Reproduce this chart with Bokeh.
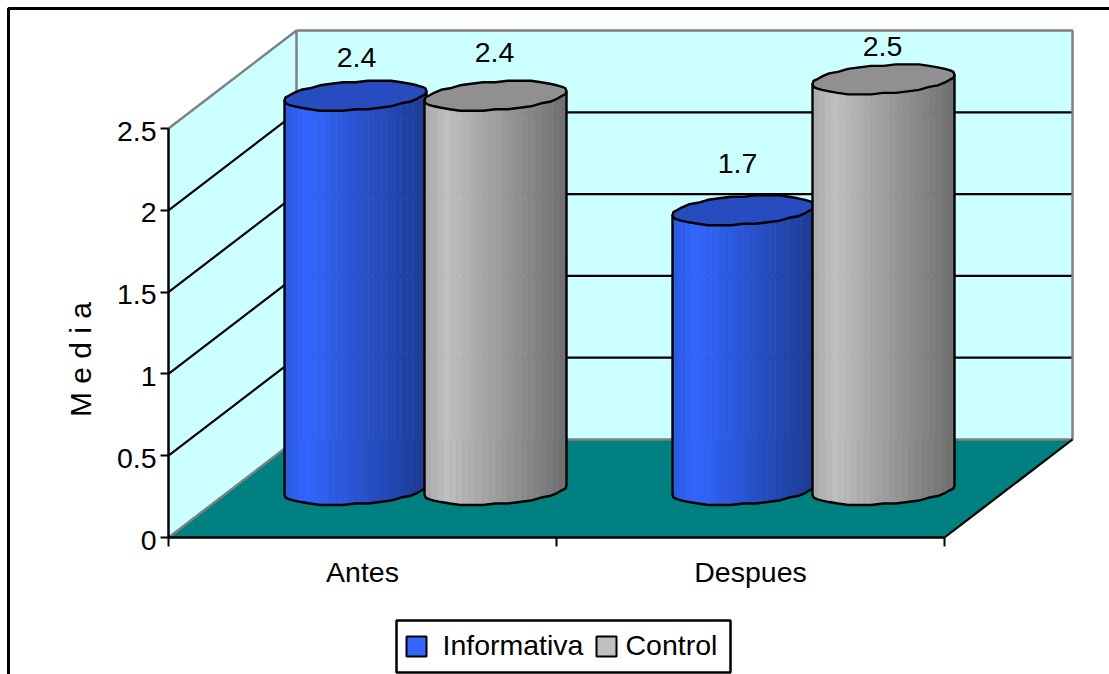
import numpy as np
from bokeh.core.properties import value
from bokeh.embed import file_html
from bokeh.models import FixedTicker, LinearAxis, Range1d
from bokeh.plotting import figure
from bokeh.resources import INLINE

# ---- chart data ----
categories = ["Antes", "Despues"]
series_names = ["Informativa", "Control"]
informativa = [2.4, 1.7]
control = [2.4, 2.5]
y_ticks = [0, 0.5, 1, 1.5, 2, 2.5]
y_tick_labels = ["0", "0.5", "1", "1.5", "2", "2.5"]

# ---- page and projection layout ----
W, H = 1109, 674
ORIGIN_X, ORIGIN_Y = 168, 537      # where value 0 of the first category sits
PX_PER_CAT, PX_PER_VAL = 388, 163.6
DEPTH_X, DEPTH_Y = 128 / PX_PER_CAT, 98 / PX_PER_VAL
FONT = "Liberation Sans"
FS = "28.5px"
TEXT_DROP = 11.5                   # alphabetic text lands this far under its anchor
LABEL_SAG = 2.5 / PX_PER_VAL       # value-axis labels sit a little under their ticks
WALL, FLOOR, EDGE = "#CCFFFF", "#008080", "#808080"
SERIES_RGB = [(0x33, 0x66, 0xFF), (0xC0, 0xC0, 0xC0)]
BAND_STOPS_U = [0.0, 0.16, 1.0]
BAND_STOPS_F = [0.88, 1.0, 0.58]
BAND_COUNT = 22


def fx(px):
    return (px - ORIGIN_X) / PX_PER_CAT


def fy(px):
    return (ORIGIN_Y - px) / PX_PER_VAL


p = figure(width=W, height=H, output_backend="svg", toolbar_location=None,
           x_range=Range1d(fx(0), fx(W)), y_range=Range1d(fy(H), fy(0)),
           min_border=0, outline_line_color=None, background_fill_color="white",
           border_fill_color="white", x_axis_type=None, y_axis_type=None)
p.grid.visible = False

# chart-area frame (its right and bottom sides fall outside the page)
p.line([fx(8), fx(8), fx(W + 5)], [fy(H + 5), fy(8), fy(8)], line_color="black", line_width=3)

# back wall, side wall, floor
top = y_ticks[-1]
p.patch([0, DEPTH_X, DEPTH_X, 0], [0, DEPTH_Y, top + DEPTH_Y, top], fill_color=WALL, line_color=None)
p.patch([DEPTH_X, 2 + DEPTH_X, 2 + DEPTH_X, DEPTH_X], [DEPTH_Y, DEPTH_Y, top + DEPTH_Y, top + DEPTH_Y],
        fill_color=WALL, line_color=None)
p.patch([0, DEPTH_X, 2 + DEPTH_X, 2], [0, DEPTH_Y, DEPTH_Y, 0], fill_color=FLOOR, line_color=None)

# gridlines wrap round the side wall and the back wall
grid = [t for t in y_ticks[1:-1]]
p.multi_line([[0, DEPTH_X, 2 + DEPTH_X] for _ in grid], [[t, t + DEPTH_Y, t + DEPTH_Y] for t in grid],
             line_color="black", line_width=2.2)

# wall and floor edges
p.line([0, DEPTH_X, DEPTH_X], [top, top + DEPTH_Y, DEPTH_Y], line_color=EDGE, line_width=2.5)
p.line([DEPTH_X, 2 + DEPTH_X, 2 + DEPTH_X, DEPTH_X, 0],
       [top + DEPTH_Y, top + DEPTH_Y, DEPTH_Y, DEPTH_Y, 0], line_color=EDGE, line_width=2.5)
p.line([2, 2 + DEPTH_X], [0, DEPTH_Y], line_color="black", line_width=2.2)

# ---- cylinders ----
RX, RY = 71 / PX_PER_CAT, 14.0 / PX_PER_VAL
SHEAR = 0.065 * PX_PER_CAT / PX_PER_VAL  # rim tilt, value units per category unit
SNAP = 1.5 / PX_PER_VAL                  # coarse rim grid gives the outline its ripple
BASE_Y_TOP, BASE_Y_BOT = 0.30, 0.29
CENTRES = {(0, 0): fx(355), (0, 1): fx(495), (1, 0): fx(743), (1, 1): fx(883)}


def rim(cx, cy):
    t = np.linspace(0, 2 * np.pi, 37)
    xs = cx + RX * np.cos(t)
    ys = cy + RY * np.sin(t) + SHEAR * RX * np.cos(t)
    ys = cy + np.round((ys - cy) / SNAP) * SNAP
    return xs, ys


def lower_arc(cx, cy):
    xs, ys = rim(cx, cy)
    half = len(xs) // 2
    return xs[half:], ys[half:]


for cat in range(2):
    for ser, vals in enumerate([informativa, control]):
        cx = CENTRES[(cat, ser)]
        v = vals[cat]
        top_y = v + BASE_Y_TOP
        bx, by = lower_arc(cx, BASE_Y_BOT)

        edges = np.linspace(cx - RX, cx + RX, BAND_COUNT + 1)
        band_x, band_y, band_c = [], [], []
        for i in range(BAND_COUNT):
            xl, xr = edges[i], edges[i + 1]
            yl, yr = np.interp([xl, xr], bx, by)
            tl = top_y + SHEAR * (xl - cx)
            tr = top_y + SHEAR * (xr - cx)
            band_x.append([xl, xr, xr, xl])
            band_y.append([yl, yr, tr, tl])
            f = np.interp((i + 0.5) / BAND_COUNT, BAND_STOPS_U, BAND_STOPS_F)
            r, g, b = [int(c * f) for c in SERIES_RGB[ser]]
            band_c.append(f"#{r:02x}{g:02x}{b:02x}")
        p.patches(band_x, band_y, fill_color=band_c, line_color=band_c, line_width=0.6)

        side_x = [bx[0]] + list(bx) + [bx[-1]]
        side_y = [top_y + SHEAR * (bx[0] - cx)] + list(by) + [top_y + SHEAR * (bx[-1] - cx)]
        p.line(side_x, side_y, line_color="black", line_width=2.4, line_join="round")

        tx, ty = rim(cx, top_y)
        r, g, b = [int(c * 0.75) for c in SERIES_RGB[ser]]
        p.patch(tx, ty, fill_color=f"#{r:02x}{g:02x}{b:02x}", line_color="black", line_width=2.4,
                line_join="round")

# value labels above each cylinder
label_offsets_px = {(0, 0): (1, 27), (0, 1): (-1, 32), (1, 0): (-6, 35), (1, 1): (-1, 21)}
lab_x, lab_y, lab_t = [], [], []
for cat in range(2):
    for ser, vals in enumerate([informativa, control]):
        dx, dy = label_offsets_px[(cat, ser)]
        lab_x.append(CENTRES[(cat, ser)] + dx / PX_PER_CAT)
        lab_y.append(vals[cat] + BASE_Y_TOP + (dy + TEXT_DROP) / PX_PER_VAL)
        lab_t.append(f"{vals[cat]}")
p.text(lab_x, lab_y, text=lab_t, text_font=value(FONT), text_font_size=FS, text_align="center",
       text_baseline="alphabetic", text_color="black")

# ---- axes ----
# ticks and their labels live on two axes so the labels can hang under the tick marks
y_axis = LinearAxis(fixed_location=0, bounds=(0, top), ticker=FixedTicker(ticks=y_ticks),
                    major_label_text_color=None, major_label_text_font_size="1px",
                    axis_line_color="black", axis_line_width=2.5,
                    major_tick_line_color="black", major_tick_line_width=2,
                    major_tick_in=0, major_tick_out=8, minor_tick_line_color=None)
p.add_layout(y_axis, "left")

y_label_pos = [t - LABEL_SAG for t in y_ticks]
y_names = LinearAxis(fixed_location=0, ticker=FixedTicker(ticks=y_label_pos),
                     major_label_overrides=dict(zip(y_label_pos, y_tick_labels)),
                     axis_line_color=None, major_tick_line_color=None, minor_tick_line_color=None,
                     major_tick_in=0, major_tick_out=8,
                     major_label_text_font=FONT, major_label_text_font_size=FS,
                     major_label_text_color="black", major_label_standoff=4)
p.add_layout(y_names, "left")

x_axis = LinearAxis(fixed_location=0, bounds=(0, 2), ticker=FixedTicker(ticks=[0, 1, 2]),
                    major_label_text_color=None, axis_line_color="black", axis_line_width=2.5,
                    major_tick_line_color="black", major_tick_line_width=2,
                    major_tick_in=0, major_tick_out=9, minor_tick_line_color=None,
                    major_label_text_font_size="1px")
p.add_layout(x_axis, "below")

x_names = LinearAxis(fixed_location=0, ticker=FixedTicker(ticks=[0.5, 1.5]),
                     major_label_overrides={0.5: categories[0], 1.5: categories[1]},
                     axis_line_color=None, major_tick_line_color=None, minor_tick_line_color=None,
                     major_label_text_font=FONT, major_label_text_font_size=FS,
                     major_label_text_color="black", major_label_standoff=12)
p.add_layout(x_names, "below")

p.text([fx(91.5 - TEXT_DROP)], [fy(359)], text=["M e d i a"], angle=np.pi / 2, text_font=value(FONT),
       text_font_size="30px", text_align="center", text_baseline="alphabetic", text_color="black")

# ---- legend ----
p.quad(left=[fx(396)], right=[fx(730)], bottom=[fy(672)], top=[fy(620)], fill_color="white",
       line_color="black", line_width=2.5)
for name, rgb, sw_x, text_x in zip(series_names, SERIES_RGB, [406, 596], [442, 625]):
    p.quad(left=[fx(sw_x)], right=[fx(sw_x + 20)], bottom=[fy(656)], top=[fy(636)],
           fill_color="#%02x%02x%02x" % rgb, line_color="black", line_width=2)
    p.text([fx(text_x)], [fy(656 - TEXT_DROP)], text=[name], text_font=value(FONT), text_font_size=FS,
           text_align="left", text_baseline="alphabetic", text_color="black")

open("out.html", "w").write(file_html(p, INLINE))
